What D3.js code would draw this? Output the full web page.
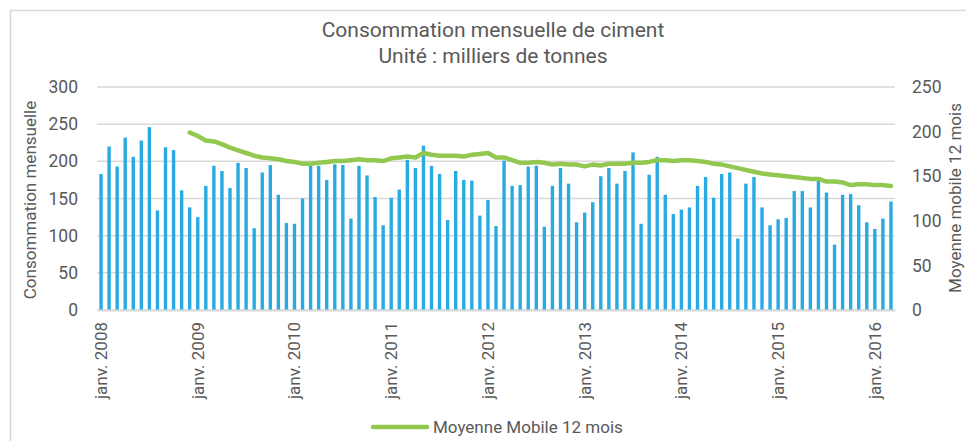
<!DOCTYPE html>
<html>
<head>
<meta charset="utf-8">
<script src="https://cdn.jsdelivr.net/npm/d3@7"></script>
<style>
  body { margin: 0; background: #fff; }
  svg text { font-family: Roboto, "Open Sans", sans-serif; fill: #595959; }
</style>
</head>
<body>
<div id="chart"></div>
<script>
// monthly cement consumption, janv. 2008 -> mars 2016 (thousand tonnes)
var consommation = [
    183, 220, 193, 232, 206, 228, 246, 134, 219, 215, 161, 138,
    125, 167, 194, 187, 164, 198, 191, 110, 185, 195, 155, 117,
    116, 150, 195, 194, 175, 196, 195, 123, 194, 181, 152, 114,
    151, 162, 202, 191, 221, 194, 183, 121, 187, 175, 174, 127,
    148, 113, 201, 167, 168, 193, 194, 112, 167, 191, 170, 118,
    131, 145, 180, 191, 170, 187, 212, 116, 182, 206, 155, 129,
    135, 138, 167, 179, 151, 183, 185, 96, 170, 179, 138, 114,
    122, 124, 160, 160, 138, 174, 158, 88, 155, 156, 141, 118,
    109, 123, 146
];
// 12 month moving average (right axis), starts in déc. 2008
var moyenneMobile = [
    null, null, null, null, null, null, null, null, null, null, null, 199,
    195, 190, 189, 186, 182, 179, 176, 173, 171, 170, 169, 167,
    166, 164, 164, 165, 166, 167, 167, 168, 169, 168, 168, 167,
    170, 171, 172, 171, 176, 174, 173, 173, 173, 172, 174, 175,
    176, 171, 171, 168, 165, 165, 166, 165, 163, 164, 163, 163,
    161, 163, 162, 164, 164, 164, 165, 165, 166, 168, 168,
    167, 168, 168, 167, 166, 164, 163, 161, 159, 157, 155, 153,
    152, 151, 150, 149, 148, 147, 147, 144, 144, 143, 140, 141, 141,
    140, 140, 139
];
var leftTicks = [0, 50, 100, 150, 200, 250, 300];
var rightTicks = [0, 50, 100, 150, 200, 250];
var monthNames = ["janv.", "févr.", "mars", "avr.", "mai", "juin", "juil.", "août", "sept.", "oct.", "nov.", "déc."];
var startYear = 2008;

var months = consommation.map(function (v, i) {
    return { idx: i, label: monthNames[i % 12] + " " + (startYear + Math.floor(i / 12)), value: v, avg: moyenneMobile[i] };
});

var width = 966, height = 441;
var margin = { top: 87, right: 71, bottom: 131, left: 97 };
var plotW = width - margin.left - margin.right;
var plotH = height - margin.top - margin.bottom;

var svg = d3.select("#chart").append("svg")
    .attr("width", width)
    .attr("height", height);

// chart frame
svg.append("rect")
    .attr("x", 10.5).attr("y", 10.5)
    .attr("width", 980).attr("height", 460)
    .attr("fill", "none")
    .attr("stroke", "#d9d9d9")
    .attr("stroke-width", 1.5);

var xScale = d3.scaleBand()
    .domain(months.map(function (d) { return d.idx; }))
    .range([0, plotW])
    .paddingInner(0.58)
    .paddingOuter(0.29);
var yLeft = d3.scaleLinear().domain([0, 300]).range([plotH, 0]);
var yRight = d3.scaleLinear().domain([0, 250]).range([plotH, 0]);

var g = svg.append("g").attr("transform", "translate(" + margin.left + "," + margin.top + ")");

// grid lines
g.append("g").attr("class", "gridLines").selectAll("line")
    .data(leftTicks)
    .enter().append("line")
    .attr("x1", 0).attr("x2", plotW)
    .attr("y1", function (d) { return yLeft(d); })
    .attr("y2", function (d) { return yLeft(d); })
    .attr("stroke", "#d9d9d9")
    .attr("stroke-width", 1.5);

// bars
g.append("g").selectAll("rect")
    .data(months)
    .enter().append("rect")
    .attr("x", function (d) { return xScale(d.idx); })
    .attr("width", xScale.bandwidth())
    .attr("y", function (d) { return yLeft(d.value); })
    .attr("height", function (d) { return plotH - yLeft(d.value); })
    .attr("fill", "#29abe2");

// moving average line
var line = d3.line()
    .defined(function (d) { return d.avg != null; })
    .x(function (d) { return xScale(d.idx) + xScale.bandwidth() / 2; })
    .y(function (d) { return yRight(d.avg); })
    .curve(d3.curveLinear);
g.append("path")
    .datum(months)
    .attr("d", line)
    .attr("fill", "none")
    .attr("stroke", "#92c850")
    .attr("stroke-width", 4.5)
    .attr("stroke-linejoin", "round")
    .attr("stroke-linecap", "round");

// axes
var leftAxis = d3.axisLeft(yLeft).tickValues(leftTicks).tickSize(0).tickPadding(19);
var la = g.append("g").attr("class", "leftAxis").call(leftAxis);
la.select(".domain").remove();
la.selectAll("text").style("font-size", "17.5px").attr("fill", "#595959");

var rightAxis = d3.axisRight(yRight).tickValues(rightTicks).tickSize(0).tickPadding(17);
var ra = g.append("g").attr("class", "rightAxis").attr("transform", "translate(" + plotW + ",0)").call(rightAxis);
ra.select(".domain").remove();
ra.selectAll("text").style("font-size", "17.5px").attr("fill", "#595959");

var janIdx = months.filter(function (d) { return d.idx % 12 === 0; }).map(function (d) { return d.idx; });
var bottomAxis = d3.axisBottom(xScale).tickValues(janIdx).tickSize(0)
    .tickFormat(function (i) { return months[i].label; });
var ba = g.append("g").attr("class", "bottomAxis").attr("transform", "translate(0," + plotH + ")").call(bottomAxis);
ba.select(".domain").attr("stroke", "#d9d9d9").attr("stroke-width", 2);
ba.selectAll("text")
    .style("font-size", "17px")
    .attr("fill", "#595959")
    .attr("text-anchor", "end")
    .attr("dy", "0.35em")
    .attr("transform", "translate(0,12) rotate(-90)")
    .attr("x", 0).attr("y", 0);

// titles
svg.append("text").attr("x", 493).attr("y", 37)
    .attr("text-anchor", "middle").style("font-size", "21px")
    .text("Consommation mensuelle de ciment");
svg.append("text").attr("x", 493).attr("y", 63)
    .attr("text-anchor", "middle").style("font-size", "21px")
    .text("Unité : milliers de tonnes");

svg.append("text")
    .attr("transform", "translate(36,200) rotate(-90)")
    .attr("text-anchor", "middle").style("font-size", "17px")
    .text("Consommation mensuelle");
svg.append("text")
    .attr("transform", "translate(961,198) rotate(-90)")
    .attr("text-anchor", "middle").style("font-size", "17px")
    .text("Moyenne mobile 12 mois");

// legend
var legend = svg.append("g").attr("transform", "translate(373,427)");
legend.append("line")
    .attr("x1", 0).attr("x2", 54).attr("y1", 0).attr("y2", 0)
    .attr("stroke", "#92c850").attr("stroke-width", 4.5)
    .attr("stroke-linecap", "round");
legend.append("text")
    .attr("x", 60).attr("y", 0).attr("dy", "0.35em")
    .style("font-size", "17px")
    .text("Moyenne Mobile 12 mois");
</script>
</body>
</html>
